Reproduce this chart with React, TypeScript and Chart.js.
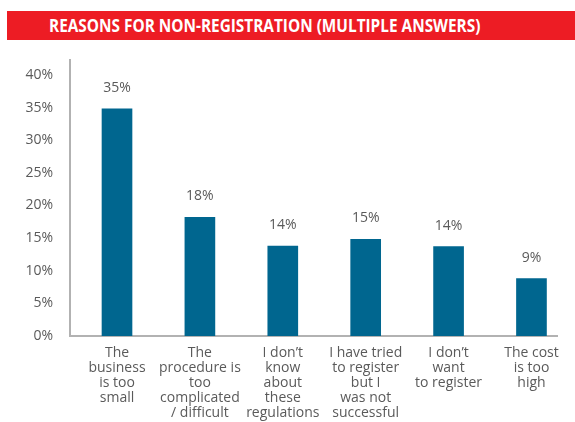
import React, { useEffect, useLayoutEffect, useRef } from "react";
import { Chart, registerables } from "chart.js";

Chart.register(...registerables);

const TITLE = "REASONS FOR NON-REGISTRATION (MULTIPLE ANSWERS)";
const categories: string[][] = [
  ["The", "business", "is too", "small"],
  ["The", "procedure is", "too", "complicated", "/ difficult"],
  ["I don’t", "know", "about", "these", "regulations"],
  ["I have tried", "to register", "but I", "was not", "successful"],
  ["I don’t", "want", "to register"],
  ["The cost", "is too", "high"],
];
const values: number[] = [34.8, 18.2, 13.8, 14.8, 13.7, 8.8];
const yTicks: number[] = [0, 5, 10, 15, 20, 25, 30, 35, 40];

const BAR_COLOR = "#00668F";
const TEXT_COLOR = "#5a5a5a";
const AXIS_COLOR = "#b2b2b2";
const FONT = "'Open Sans', 'DejaVu Sans', sans-serif";

const valueLabels = {
  id: "valueLabels",
  afterDatasetsDraw(chart: any) {
    const ctx = chart.ctx;
    const meta = chart.getDatasetMeta(0);
    ctx.save();
    ctx.font = `14px ${FONT}`;
    ctx.fillStyle = TEXT_COLOR;
    ctx.textAlign = "center";
    ctx.textBaseline = "bottom";
    meta.data.forEach((el: any, i: number) => {
      ctx.fillText(`${Math.round(values[i])}%`, el.x, el.y - 14);
    });
    ctx.restore();
  },
};

export default function App() {
  const canvasRef = useRef<HTMLCanvasElement>(null);
  const titleRef = useRef<HTMLSpanElement>(null);

  useLayoutEffect(() => {
    const span = titleRef.current;
    if (span) {
      const w = span.offsetWidth;
      if (w > 0) span.style.transform = `scaleX(${431 / w})`;
    }
  }, []);

  useEffect(() => {
    if (!canvasRef.current) return;
    const chart = new Chart(canvasRef.current, {
      type: "bar",
      data: {
        datasets: [
          {
            data: values.map((v, i) => ({ x: i, y: v })),
            backgroundColor: BAR_COLOR,
            barThickness: 30,
          },
        ],
      },
      plugins: [valueLabels],
      options: {
        animation: false,
        responsive: false,
        layout: { padding: { top: 60, right: 18, left: 0, bottom: 0 } },
        plugins: { legend: { display: false }, tooltip: { enabled: false }, title: { display: false } },
        scales: {
          x: {
            type: "linear",
            min: -0.567,
            max: 5.308,
            offset: false,
            grid: { display: false, drawTicks: false },
            border: { display: true, color: AXIS_COLOR, width: 2 },
            afterFit: (s: any) => {
              s.height = 86;
            },
            afterBuildTicks: (s: any) => {
              s.ticks = categories.map((_, i) => ({ value: i }));
            },
            ticks: {
              autoSkip: false,
              maxRotation: 0,
              padding: 10,
              color: TEXT_COLOR,
              font: { family: FONT, size: 14, lineHeight: 1.07 },
              callback: (v: any) => categories[v] ?? "",
            },
          },
          y: {
            min: 0,
            max: 42.3,
            grid: { display: false, drawTicks: false },
            border: { display: true, color: AXIS_COLOR, width: 2 },
            afterFit: (s: any) => {
              s.width = 70;
            },
            afterBuildTicks: (s: any) => {
              s.ticks = yTicks.map((v) => ({ value: v }));
            },
            ticks: {
              padding: 17,
              color: TEXT_COLOR,
              font: { family: FONT, size: 14 },
              callback: (v: any) => `${v}%`,
            },
          },
        },
      },
    });
    return () => chart.destroy();
  }, []);

  return (
    <div style={{ position: "absolute", left: 0, top: 0, width: 575, height: 422, background: "#fff" }}>
      <canvas ref={canvasRef} width={575} height={422} style={{ display: "block", width: 575, height: 422 }} />
      <div
        style={{
          position: "absolute",
          left: 7,
          top: 11,
          width: 568,
          height: 29,
          background: "#ED1C24",
          overflow: "hidden",
        }}
      >
        <span
          ref={titleRef}
          style={{
            position: "absolute",
            left: 42,
            top: 0,
            lineHeight: "29px",
            whiteSpace: "nowrap",
            color: "#fff",
            fontFamily: FONT,
            fontWeight: 700,
            fontSize: 18,
            transformOrigin: "0 50%",
            display: "inline-block",
          }}
        >
          {TITLE}
        </span>
      </div>
    </div>
  );
}
